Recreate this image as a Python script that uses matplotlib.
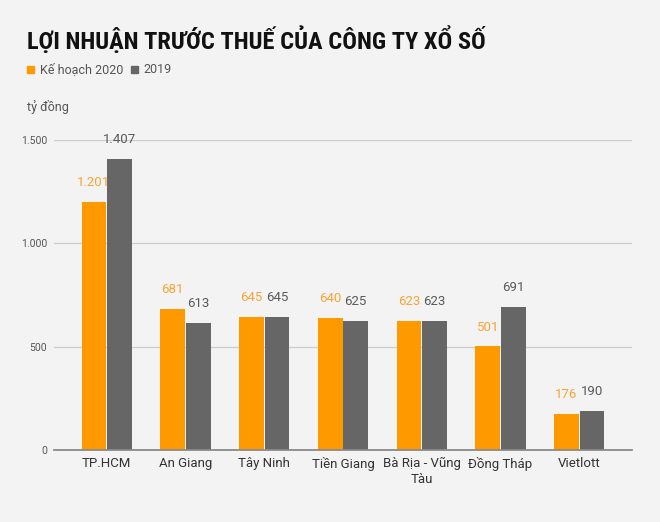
import matplotlib.pyplot as plt
import numpy as np

# dữ liệu
categories = ['TP.HCM', 'An Giang', 'Tây Ninh', 'Tiền Giang', 'Bà Rịa - Vũng\nTàu', 'Đồng Tháp', 'Vietlott']
plan_2020 = [1201, 681, 645, 640, 623, 501, 176]
actual_2019 = [1407, 613, 645, 625, 623, 691, 190]
yticks = [0, 500, 1000, 1500]
ytick_labels = ['0', '500', '1.000', '1.500']

def fmt(v):
    return '{:,}'.format(v).replace(',', '.')

bg = '#f3f3f3'
orange = '#ff9900'
gray = '#666666'

plt.rcParams['font.family'] = ['Roboto', 'DejaVu Sans']

fig = plt.figure(figsize=(6.6, 5.22), dpi=100, facecolor=bg)
ax = fig.add_axes([0.0818, 0.1379, 0.8758, 0.5939], facecolor=bg)

x = np.arange(len(categories))
w = 0.315
b1 = ax.bar(x - w / 2 - 0.005, plan_2020, w, color=orange, zorder=3)
b2 = ax.bar(x + w / 2 + 0.005, actual_2019, w, color=gray, zorder=3)

# nhãn giá trị
for rect, v in zip(b1, plan_2020):
    ax.annotate(fmt(v), (rect.get_x() + rect.get_width() / 2, v), xytext=(0, 14),
                textcoords='offset points', ha='center', va='center',
                fontsize=9.5, color='#f7a435', zorder=4)
for rect, v in zip(b2, actual_2019):
    ax.annotate(fmt(v), (rect.get_x() + rect.get_width() / 2, v), xytext=(0, 14),
                textcoords='offset points', ha='center', va='center',
                fontsize=9.5, color='#595959', zorder=4)

ax.set_xlim(-0.67, 6.67)
ax.set_ylim(0, 1500)
ax.set_yticks(yticks)
ax.set_yticklabels(ytick_labels, fontsize=7.5, color='#555555')
ax.set_xticks(x)
ax.set_xticklabels(categories, fontsize=9.5, color='#333333', linespacing=1.3)
ax.tick_params(axis='both', length=0)
ax.tick_params(axis='y', pad=5)
ax.tick_params(axis='x', pad=5)
ax.grid(axis='y', color='#cccccc', linewidth=0.9, zorder=0)
for s in ['top', 'right', 'left']:
    ax.spines[s].set_visible(False)
ax.spines['bottom'].set_color('#8a8a8a')
ax.spines['bottom'].set_linewidth(1.3)
ax.spines['bottom'].set_zorder(5)

# tiêu đề và chú thích
fig.text(27 / 660, 1 - 40 / 522, 'LỢI NHUẬN TRƯỚC THUẾ CỦA CÔNG TY XỔ SỐ',
         fontsize=17.6, fontweight='bold', color='#111111', va='center',
         family=['Liberation Sans Narrow', 'Roboto Condensed', 'Roboto', 'DejaVu Sans'])
fig.patches.append(plt.Rectangle((27 / 660, 1 - 73 / 522), 7 / 660, 7 / 522,
                                 transform=fig.transFigure, color=orange))
fig.text(40 / 660, 1 - 69.5 / 522, 'Kế hoạch 2020', fontsize=9, color='#555555', va='center')
fig.patches.append(plt.Rectangle((131 / 660, 1 - 73 / 522), 7 / 660, 7 / 522,
                                 transform=fig.transFigure, color=gray))
fig.text(143 / 660, 1 - 69.5 / 522, '2019', fontsize=9, color='#555555', va='center')
fig.text(27 / 660, 1 - 107 / 522, 'tỷ đồng', fontsize=9, color='#555555', va='center')

fig.savefig('out.png', dpi=100, facecolor=bg)
